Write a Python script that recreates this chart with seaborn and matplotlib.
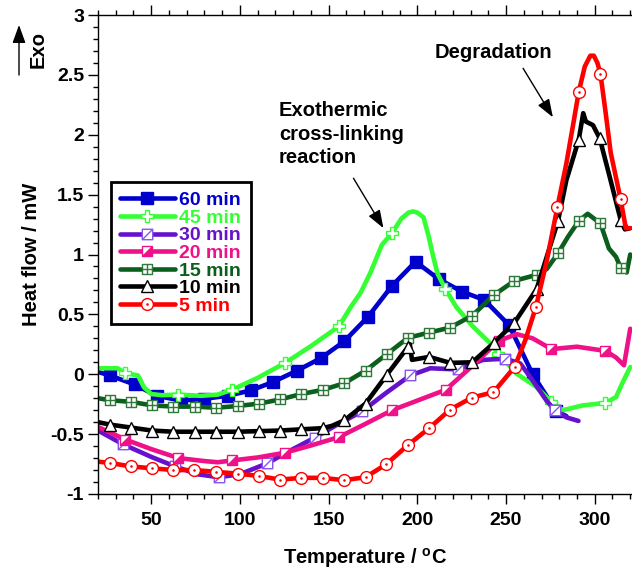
import matplotlib
matplotlib.use("Agg")
import matplotlib.pyplot as plt
import seaborn as sns
from matplotlib.path import Path
from matplotlib.markers import MarkerStyle
from matplotlib.transforms import Affine2D
from matplotlib.ticker import MultipleLocator, FuncFormatter

# ---- data (temperature in C, heat flow in mW) ----
T60 = [20, 26.6, 40.6, 53, 66.9, 80, 93, 106.2, 118.6, 132.2, 145.7, 158.8, 172.2, 185.8, 199, 212,
       225.2, 237.8, 251.7, 265, 278.2, 284]
H60 = [0.02, -0.01, -0.085, -0.18, -0.22, -0.205, -0.18, -0.135, -0.065, 0.03, 0.135, 0.275, 0.48, 0.74,
       0.94, 0.795, 0.69, 0.62, 0.41, 0.0, -0.305, -0.35]
MK60 = [26.6, 40.6, 53, 66.9, 80, 93, 106.2, 118.6, 132.2, 145.7, 158.8, 172.2, 185.8, 199, 212,
        225.2, 237.8, 251.7, 265, 278.2]

T45 = [20, 31, 35.4, 42.5, 46, 50, 56, 65.3, 78, 87.5, 95.5, 110, 125.5, 140, 155.8, 162.4, 168, 173.6,
       180, 185.8, 191, 195, 197.5, 200, 203.5, 206.4, 209, 211.4, 215.7, 222, 231.6, 241, 245.7, 256,
       267, 275.6, 282, 293.3, 306, 312, 316, 320]
H45 = [0.05, 0.05, 0.01, -0.01, -0.11, -0.165, -0.175, -0.17, -0.18, -0.17, -0.13, -0.03, 0.095, 0.235,
       0.40, 0.56, 0.68, 0.85, 1.08, 1.18, 1.3, 1.35, 1.36, 1.35, 1.31, 1.15, 0.98, 0.84, 0.715, 0.56,
       0.395, 0.26, 0.17, 0.005, -0.105, -0.23, -0.30, -0.26, -0.24, -0.19, -0.06, 0.06]
MK45 = [35.4, 65.3, 95.5, 125.5, 155.8, 185.8, 215.7, 245.7, 275.6, 306]

T30 = [20, 34.1, 50, 63.5, 76, 88, 100, 115.2, 128, 142.1, 155, 168.8, 182, 196, 207.3, 223, 237,
       249.6, 258, 263.5, 272.8, 277.5, 284, 290.8]
H30 = [-0.47, -0.585, -0.69, -0.77, -0.835, -0.86, -0.835, -0.745, -0.64, -0.53, -0.42, -0.31, -0.16,
       -0.01, 0.05, 0.04, 0.12, 0.13, 0.09, -0.02, -0.22, -0.30, -0.36, -0.39]
MK30 = [34.1, 63.5, 88, 115.2, 142.1, 168.8, 196, 223, 249.6, 277.5]

T20 = [20, 35.4, 50, 65.3, 80, 87.5, 95.5, 110, 125.5, 140, 155.8, 170, 185.8, 200, 216, 231, 246,
       256, 265, 275.6, 290, 306, 312, 316.5, 320]
H20 = [-0.44, -0.545, -0.625, -0.70, -0.725, -0.735, -0.72, -0.695, -0.655, -0.595, -0.525, -0.42,
       -0.30, -0.22, -0.13, 0.07, 0.28, 0.335, 0.30, 0.21, 0.23, 0.195, 0.14, 0.075, 0.38]
MK20 = [35.4, 65.3, 95.5, 125.5, 155.8, 185.8, 216, 246, 275.6, 306]

T15 = [20, 26.6, 38.4, 50.4, 62.5, 74.6, 86.5, 98.7, 110.9, 122.7, 134.6, 146.8, 158.8, 170.8, 182.8,
       194.8, 206.7, 218.5, 231, 243, 254.7, 267.2, 273, 279.3, 285, 291, 296, 303.2, 308, 312, 314.6,
       318, 320]
H15 = [-0.20, -0.217, -0.23, -0.26, -0.27, -0.27, -0.28, -0.265, -0.245, -0.21, -0.165, -0.13, -0.075,
       0.03, 0.168, 0.305, 0.348, 0.39, 0.49, 0.66, 0.78, 0.83, 0.88, 1.01, 1.15, 1.28, 1.34, 1.26,
       1.05, 0.98, 0.89, 0.85, 1.0]
MK15 = [26.6, 38.4, 50.4, 62.5, 74.6, 86.5, 98.7, 110.9, 122.7, 134.6, 146.8, 158.8, 170.8, 182.8,
        194.8, 206.7, 218.5, 231, 243, 254.7, 267.2, 279.3, 291, 303.2, 314.6]

T10 = [20, 26.6, 38.4, 50.4, 62.5, 74.6, 86.5, 98.7, 110.9, 122.7, 134.6, 146.8, 152, 158.8, 170.8,
       182.8, 194.8, 195.8, 197, 206.7, 218.5, 231, 243, 254.7, 267.2, 279.3, 284, 291, 293.5, 295,
       299, 302.8, 308.4, 314.6, 317, 320]
H10 = [-0.40, -0.42, -0.445, -0.47, -0.48, -0.48, -0.48, -0.48, -0.475, -0.47, -0.46, -0.45, -0.43,
       -0.385, -0.245, -0.005, 0.23, 0.25, 0.12, 0.145, 0.095, 0.10, 0.26, 0.43, 0.71, 1.28, 1.62,
       1.96, 2.18, 2.11, 2.08, 1.97, 1.65, 1.29, 1.21, 1.22]
MK10 = [26.6, 38.4, 50.4, 62.5, 74.6, 86.5, 98.7, 110.9, 122.7, 134.6, 146.8, 158.8, 170.8, 182.8,
        194.8, 206.7, 218.5, 231, 243, 254.7, 267.2, 279.3, 291, 302.8, 314.6]

T5 = [20, 26.6, 38.4, 50.4, 62.5, 74.3, 86.5, 98.7, 110.9, 122.6, 134.6, 146.8, 158.6, 170.8, 182.6,
      194.8, 206.7, 218.5, 230.7, 242.9, 254.8, 261, 266.9, 273, 279, 284, 288, 291, 294.4, 297.5,
      299.5, 301.5, 303.2, 306, 309, 314.6, 317.5, 320]
H5 = [-0.73, -0.74, -0.77, -0.785, -0.80, -0.80, -0.815, -0.83, -0.85, -0.88, -0.865, -0.865, -0.885,
      -0.86, -0.75, -0.59, -0.45, -0.295, -0.195, -0.15, 0.06, 0.29, 0.565, 0.95, 1.40, 1.76, 2.1,
      2.36, 2.57, 2.66, 2.66, 2.6, 2.51, 2.2, 1.85, 1.46, 1.22, 1.22]
MK5 = [26.6, 38.4, 50.4, 62.5, 74.3, 86.5, 98.7, 110.9, 122.6, 134.6, 146.8, 158.6, 170.8, 182.6,
       194.8, 206.7, 218.5, 230.7, 242.9, 254.8, 266.9, 279, 291, 303.2, 314.6]

LABELS = ["60 min", "45 min", "30 min", "20 min", "15 min", "10 min", "5 min"]
COLORS = ["#0000CC", "#33FF33", "#6611CC", "#EE1188", "#0B5E1B", "#000000", "#FF0000"]

sns.set_theme(style="ticks", rc={"axes.edgecolor": "black", "text.color": "black",
                                 "axes.labelcolor": "black", "xtick.color": "black",
                                 "ytick.color": "black", "axes.unicode_minus": False})
plt.rcParams["font.family"] = ["Liberation Sans", "DejaVu Sans"]
plt.rcParams["font.weight"] = "bold"
plt.rcParams["mathtext.fontset"] = "custom"
plt.rcParams["mathtext.rm"] = "Liberation Sans:bold"
plt.rcParams["mathtext.bf"] = "Liberation Sans:bold"

# custom markers
sq = [(-1, -1), (1, -1), (1, 1), (-1, 1), (-1, -1)]
sq_codes = [Path.MOVETO] + [Path.LINETO] * 3 + [Path.CLOSEPOLY]
m_slash = Path(sq + [(-1, -1), (1, 1)], sq_codes + [Path.MOVETO, Path.LINETO])
m_boxplus = Path(sq + [(-1, 0), (1, 0), (0, -1), (0, 1)],
                 sq_codes + [Path.MOVETO, Path.LINETO, Path.MOVETO, Path.LINETO])
m_half = MarkerStyle("D", fillstyle="right", transform=Affine2D().rotate_deg(-45))
m_dotcircle = Path.make_compound_path(Path.unit_circle(), Path.circle((0, 0), 0.1))

series = [
    (T60, H60, MK60, dict(marker="s", markersize=9, markerfacecolor=COLORS[0], markeredgecolor=COLORS[0])),
    (T45, H45, MK45, dict(marker="P", markersize=8, markerfacecolor="white", markeredgecolor=COLORS[1])),
    (T30, H30, MK30, dict(marker=m_slash, markersize=7.5, markerfacecolor="white", markeredgecolor="#8855EE")),
    (T20, H20, MK20, dict(marker=m_half, markersize=7.5, markerfacecolor=COLORS[3],
                          markerfacecoloralt="white", markeredgecolor=COLORS[3])),
    (T15, H15, MK15, dict(marker=m_boxplus, markersize=7, markerfacecolor="white", markeredgecolor="#2E7A3A")),
    (T10, H10, MK10, dict(marker="^", markersize=8, markerfacecolor="white", markeredgecolor="black")),
    (T5, H5, MK5, dict(marker=m_dotcircle, markersize=8.5, markerfacecolor="white", markeredgecolor=COLORS[6])),
]

fig = plt.figure(figsize=(6.32, 5.78), dpi=100)
ax = fig.add_axes([98 / 632, 84 / 578, 534 / 632, 479 / 578])

for (T, H, MK, mk), lab, col in zip(series, LABELS, COLORS):
    sns.lineplot(x=T, y=H, ax=ax, sort=False, estimator=None, color=col, linewidth=3.3,
                 markevery=[T.index(t) for t in MK], markeredgewidth=1.0, label=lab, **mk)

ax.set_xlim(20, 321)
ax.set_ylim(-1, 3)
ax.xaxis.set_major_locator(MultipleLocator(50))
ax.xaxis.set_minor_locator(MultipleLocator(10))
ax.yaxis.set_major_locator(MultipleLocator(0.5))
ax.yaxis.set_minor_locator(MultipleLocator(0.1))
ax.yaxis.set_major_formatter(FuncFormatter(lambda v, p: "%g" % v))
ax.tick_params(which="both", direction="out", top=True, right=False, width=1, labelsize=14)
ax.tick_params(which="major", length=7)
ax.tick_params(which="minor", length=3.5)
ax.tick_params(axis="x", which="major", pad=6)
ax.tick_params(axis="y", which="major", pad=3)
for lbl in ax.get_xticklabels() + ax.get_yticklabels():
    lbl.set_fontweight("bold")
ax.spines["right"].set_visible(False)
for s in ["left", "top", "bottom"]:
    ax.spines[s].set_linewidth(1)

ax.set_xlabel(r"Temperature / $^{\mathregular{o}}$C", fontsize=14.5, fontweight="bold")
ax.set_ylabel("Heat flow / mW", fontsize=14.5, fontweight="bold")
ax.xaxis.set_label_coords(0.5, -0.108)
ax.yaxis.set_label_coords(-0.107, 0.5)

leg = ax.legend(loc="upper left", bbox_to_anchor=(0.024, 0.651), borderaxespad=0, frameon=True,
                fancybox=False, edgecolor="black", framealpha=1, handlelength=2.8,
                handletextpad=0.25, labelspacing=0.0, borderpad=0.48, numpoints=1,
                prop={"size": 14, "weight": "bold"})
leg.get_frame().set_linewidth(2)
for txt, col in zip(leg.get_texts(), COLORS):
    txt.set_color(col)

arrow = dict(arrowstyle="-|>,head_length=1.1,head_width=0.4", color="black", lw=1,
             mutation_scale=10, shrinkA=0, shrinkB=0)
ax.text(242.7, 2.69, "Degradation", fontsize=14.5, fontweight="bold", ha="center", va="center")
ax.annotate("", xy=(276.4, 2.146), xytext=(259.6, 2.555), arrowprops=arrow)
ax.text(121.9, 2.28, "Exothermic\ncross-linking\nreaction", fontsize=14.5, fontweight="bold",
        ha="left", va="top", linespacing=1.3)
ax.annotate("", xy=(180.9, 1.22), xytext=(164, 1.637), arrowprops=arrow)

fig.text(38 / 632, 1 - 50 / 578, "Exo", rotation=90, fontsize=14.5, fontweight="bold",
         ha="center", va="center")
ax.annotate("", xy=(19 / 632, 1 - 25 / 578), xytext=(19 / 632, 1 - 75 / 578),
            xycoords="figure fraction", textcoords="figure fraction", arrowprops=arrow,
            annotation_clip=False)

fig.savefig("out.png", dpi=100)
